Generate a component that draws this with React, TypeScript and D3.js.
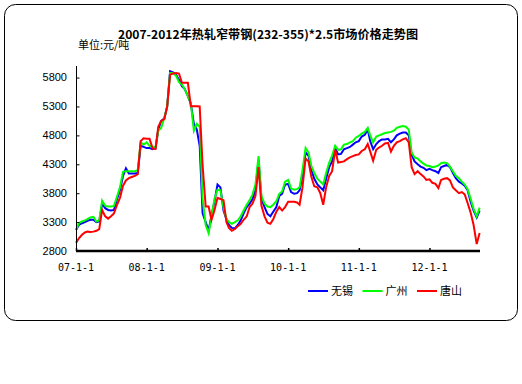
import React, { useRef, useEffect } from "react";
import * as d3 from "d3";

const title = "2007-2012年热轧窄带钢(232-355)*2.5市场价格走势图";
const unitLabel = "单位:元/吨";
const seriesNames = ["无锡", "广州", "唐山"];
const seriesColors = ["#0000ff", "#00ff00", "#ff0000"];
const yTicks = [2800, 3300, 3800, 4300, 4800, 5300, 5800];
const xTickLabels = ["07-1-1", "08-1-1", "09-1-1", "10-1-1", "11-1-1", "12-1-1"];

// semi-monthly readings (1st and 16th), Jan 2007 - Sep 2012
const wuxi = [
  3165, 3250, 3280, 3300, 3320, 3340, 3340, 3300, 3310, 3620,
  3540, 3510, 3500, 3510, 3700, 3850, 4100, 4230, 4140, 4140,
  4140, 4150, 4620, 4600, 4580, 4580, 4560, 4580, 4900, 5050,
  5090, 5300, 5910, 5890, 5850, 5760, 5650, 5600, 5480, 5350,
  5000, 4900, 4620, 3450, 3300, 3150, 3420, 3650, 3950, 3900,
  3500, 3350, 3250, 3200, 3190, 3250, 3330, 3450, 3560, 3620,
  3700, 3850, 4380, 3700, 3560, 3440, 3400, 3480, 3560, 3750,
  3790, 3950, 3960, 3820, 3790, 3800, 3850, 4100, 4500, 4450,
  4200, 4050, 3950, 3900, 3850, 4050, 4250, 4350, 4580, 4470,
  4480, 4560, 4580, 4600, 4640, 4680, 4700, 4780, 4810, 4900,
  4700, 4560, 4650, 4700, 4730, 4730, 4740, 4680, 4730, 4800,
  4830, 4850, 4850, 4800, 4460, 4350, 4300, 4260, 4240, 4200,
  4220, 4200, 4180, 4150, 4250, 4270, 4290, 4250, 4150, 4060,
  4000, 3970, 3930, 3850, 3650, 3500, 3380, 3500,
];
const guangzhou = [
  3165, 3280, 3310, 3330, 3350, 3380, 3390, 3310, 3330, 3670,
  3580, 3570, 3570, 3580, 3740, 3900, 4170, 4180, 4180, 4180,
  4180, 4200, 4680, 4640, 4680, 4620, 4600, 4600, 4880, 4930,
  5100, 5300, 5880, 5880, 5830, 5720, 5680, 5600, 5480, 5360,
  4880, 5000, 4950, 3700, 3250, 3110, 3380, 3700, 3860, 3850,
  3550, 3360, 3300, 3270, 3300, 3330, 3400, 3500, 3600, 3680,
  3780, 3950, 4440, 3750, 3620, 3570, 3560, 3600, 3660, 3790,
  3830, 4000, 4030, 3880, 3860, 3870, 3900, 4200, 4580, 4500,
  4270, 4150, 4050, 4000, 3950, 4150, 4330, 4450, 4620, 4550,
  4560, 4640, 4650, 4680, 4700, 4760, 4790, 4830, 4860, 4930,
  4800, 4680, 4780, 4800, 4820, 4840, 4850, 4860, 4880, 4930,
  4950, 4960, 4950, 4900, 4500, 4420, 4400, 4350, 4310, 4280,
  4270, 4250, 4260, 4280, 4320, 4330, 4320, 4260, 4180, 4100,
  4060, 4000, 3950, 3870, 3700, 3530, 3400, 3550,
];
const tangshan = [
  2940, 3020, 3080, 3120, 3135, 3130, 3135, 3150, 3180, 3510,
  3400, 3360, 3400, 3450, 3600, 3720, 3930, 4020, 4060, 4080,
  4100, 4130, 4700, 4750, 4740, 4740, 4570, 4565, 4950, 5050,
  5080, 5300, 5850, 5870, 5880, 5870, 5710, 5710, 5710, 5305,
  5305, 5305, 5300, 4280, 3570, 3570, 3340, 3500, 3720, 3700,
  3680, 3300, 3200, 3150, 3180, 3230, 3270, 3340, 3400, 3560,
  3620, 3750, 4250, 3580, 3400, 3290, 3270, 3350, 3480, 3560,
  3500, 3560, 3650, 3650, 3650, 3640, 3600, 3900, 4400, 4350,
  4080, 3920, 3900, 3800, 3600, 3900, 4100, 4180, 4550, 4330,
  4340, 4350, 4390, 4420, 4440, 4460, 4470, 4530, 4560, 4650,
  4520, 4360, 4550, 4590, 4620, 4660, 4670, 4520, 4620, 4680,
  4700, 4730, 4750, 4680, 4250, 4130, 4180, 4130, 4090, 4030,
  4040, 3980, 3960, 3890, 4030, 4050, 4060, 4020, 3900, 3850,
  3800, 3820, 3780, 3630, 3460, 3250, 2920, 3110,
];

const App = () => {
  const svgRef = useRef(null);
  const width = 522;
  const height = 384;

  useEffect(() => {
    const svg = d3.select(svgRef.current);
    svg.selectAll("*").remove();

    const dates = wuxi.map((_, i) => new Date(2007, Math.floor(i / 2), i % 2 ? 16 : 1));
    const xScale = d3
      .scaleTime()
      .domain([new Date(2007, 0, 1), new Date(2012, 8, 18)])
      .range([76, 480]);
    const yScale = d3.scaleLinear().domain([2800, 6000]).range([251, 66]);

    // frame
    svg
      .append("rect")
      .attr("x", 4.5)
      .attr("y", 4.5)
      .attr("width", 513)
      .attr("height", 316)
      .attr("rx", 11)
      .attr("fill", "white")
      .attr("stroke", "black");

    // title
    svg
      .append("text")
      .attr("x", 118)
      .attr("y", 39)
      .attr("textLength", 300)
      .attr("lengthAdjust", "spacingAndGlyphs")
      .style("font-family", "'Noto Sans CJK SC', sans-serif")
      .style("font-size", "12px")
      .style("font-weight", "bold")
      .text(title);

    svg
      .append("text")
      .attr("x", 78)
      .attr("y", 49)
      .style("font-family", "'Noto Sans CJK SC', sans-serif")
      .style("font-size", "11px")
      .text(unitLabel);

    // lines
    const line = d3
      .line()
      .x((d, i) => xScale(dates[i]))
      .y((d) => yScale(d));

    [wuxi, guangzhou, tangshan].forEach((values, index) => {
      svg
        .append("path")
        .datum(values)
        .attr("fill", "none")
        .attr("stroke", seriesColors[index])
        .attr("stroke-width", 2)
        .attr("stroke-linejoin", "miter")
        .attr("d", line);
    });

    // y axis
    const yAxis = svg
      .append("g")
      .attr("transform", "translate(76,0)")
      .call(d3.axisRight(yScale).tickValues(yTicks).tickSize(3).tickFormat(() => ""));
    yAxis.select(".domain").attr("d", "M0.5,66V251");
    yAxis.selectAll("line").attr("x1", 0.5).attr("x2", 3.5);
    yTicks.forEach((t) => {
      svg
        .append("text")
        .attr("x", 67)
        .attr("y", yScale(t))
        .attr("dy", "0.35em")
        .attr("text-anchor", "end")
        .style("font-family", "'Liberation Sans', Arial, sans-serif")
        .style("font-size", "11px")
        .text(t);
    });

    // x axis
    const yearDates = xTickLabels.map((_, i) => new Date(2007 + i, 0, 1));
    const xAxis = svg
      .append("g")
      .attr("transform", "translate(0,251)")
      .call(d3.axisTop(xScale).tickValues(yearDates).tickSize(3).tickFormat(() => ""));
    xAxis.select(".domain").attr("d", "M76,0H480").attr("stroke-width", 2.5);
    xAxis.selectAll(".tick line").attr("stroke-width", 1.5);
    xTickLabels.forEach((label, i) => {
      svg
        .append("text")
        .attr("x", xScale(yearDates[i]))
        .attr("y", 271)
        .attr("text-anchor", "middle")
        .style("font-family", "'DejaVu Sans Mono', monospace")
        .style("font-size", "10px")
        .text(label);
    });

    // legend
    seriesNames.forEach((name, i) => {
      const lx = 308 + i * 54.5;
      svg
        .append("line")
        .attr("x1", lx)
        .attr("x2", lx + 20)
        .attr("y1", 291)
        .attr("y2", 291)
        .attr("stroke", seriesColors[i])
        .attr("stroke-width", 2);
      svg
        .append("text")
        .attr("x", lx + 23)
        .attr("y", 295)
        .style("font-family", "'Noto Sans CJK SC', sans-serif")
        .style("font-size", "11px")
        .text(name);
    });
  }, []);

  return (
    <svg
      ref={svgRef}
      width={width}
      height={height}
      style={{ position: "absolute", left: 0, top: 0, background: "white" }}
    />
  );
};

export default App;
